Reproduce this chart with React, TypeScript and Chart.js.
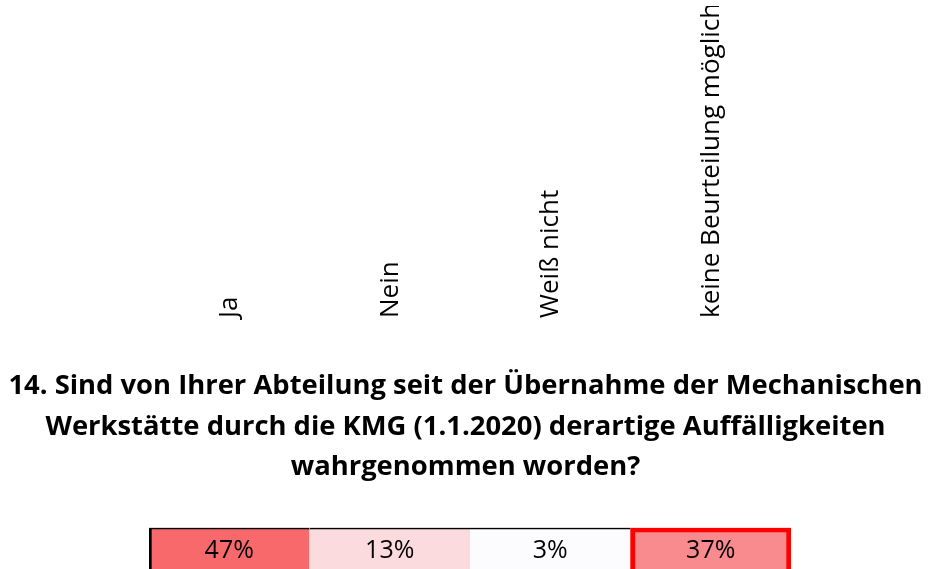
import React, { useEffect, useRef } from 'react';
import { Chart, registerables } from 'chart.js';

Chart.register(...registerables);

const categories = ['Ja', 'Nein', 'Weiß nicht', 'keine Beurteilung möglich'];
const percentValues = [47, 13, 3, 37];
const highlighted = [false, false, false, true];
const titleLines = [
  '14. Sind von Ihrer Abteilung seit der Übernahme der Mechanischen',
  'Werkstätte durch die KMG (1.1.2020) derartige Auffälligkeiten',
  'wahrgenommen worden?',
];

const FONT = '"Open Sans"';

function heatColor(v: number, min: number, max: number): string {
  const lo = [252, 252, 255];
  const hi = [248, 105, 107];
  const t = max === min ? 0 : (v - min) / (max - min);
  const c = lo.map((l, i) => Math.round(l + (hi[i] - l) * t));
  return `rgb(${c[0]}, ${c[1]}, ${c[2]})`;
}

const cellLabels = {
  id: 'cellLabels',
  afterDatasetsDraw(chart: any) {
    const ctx = chart.ctx;
    const meta = chart.getDatasetMeta(0);
    ctx.save();
    ctx.font = `25px ${FONT}`;
    ctx.fillStyle = '#000';
    ctx.textAlign = 'center';
    ctx.textBaseline = 'middle';
    meta.data.forEach((el: any, i: number) => {
      const p = el.getProps(['x', 'y', 'base'], true);
      ctx.fillText(`${percentValues[i]}%`, p.x, (p.y + p.base) / 2);
    });
    ctx.restore();
  },
};

const hiddenSide = (w: number) => ({
  display: true,
  grid: { display: false, drawTicks: false },
  border: { display: false },
  ticks: { display: false },
  afterFit: (s: any) => {
    s.width = w;
  },
});

export default function App() {
  const ref = useRef<HTMLCanvasElement | null>(null);

  useEffect(() => {
    if (!ref.current) return;
    const min = Math.min(...percentValues);
    const max = Math.max(...percentValues);
    const chart = new Chart(ref.current, {
      type: 'bar',
      data: {
        labels: categories,
        datasets: [
          {
            data: percentValues.map(() => 1),
            backgroundColor: percentValues.map((v) => heatColor(v, min, max)),
            borderColor: highlighted.map((h) => (h ? '#ff0000' : '#000000')),
            borderWidth: highlighted.map((h, i) =>
              h ? 5 : { top: 2, left: i === 0 ? 3 : 0, right: 0, bottom: 0 }
            ) as any,
            borderSkipped: false,
            categoryPercentage: 1,
            barPercentage: 1,
          },
        ],
      },
      options: {
        animation: false,
        responsive: true,
        maintainAspectRatio: false,
        layout: { padding: { left: 0, right: 0, top: 6, bottom: 0 } },
        plugins: {
          legend: { display: false },
          tooltip: { enabled: false },
          title: {
            display: true,
            text: titleLines,
            weight: -1,
            color: '#000',
            font: { family: FONT, size: 27.4, weight: 'bold', lineHeight: 1.48 },
            padding: { top: 44, bottom: 40 },
          } as any,
        },
        scales: {
          x: {
            position: 'top',
            weight: 10,
            grid: { display: false, drawTicks: false },
            border: { display: false },
            ticks: {
              color: '#000',
              minRotation: 90,
              maxRotation: 90,
              padding: 4,
              labelOffset: 32,
              font: { family: FONT, size: 26 },
            },
            afterFit: (s: any) => {
              s.height = 316;
            },
          } as any,
          y: {
            position: 'left',
            min: 0,
            max: 1,
            ...hiddenSide(149),
          } as any,
          yRight: {
            type: 'linear',
            position: 'right',
            ...hiddenSide(140),
          } as any,
        },
      },
      plugins: [cellLabels],
    });
    return () => chart.destroy();
  }, []);

  return (
    <div style={{ position: 'fixed', left: 0, top: 0, width: 931, height: 574, background: '#fff' }}>
      <canvas ref={ref} />
    </div>
  );
}
